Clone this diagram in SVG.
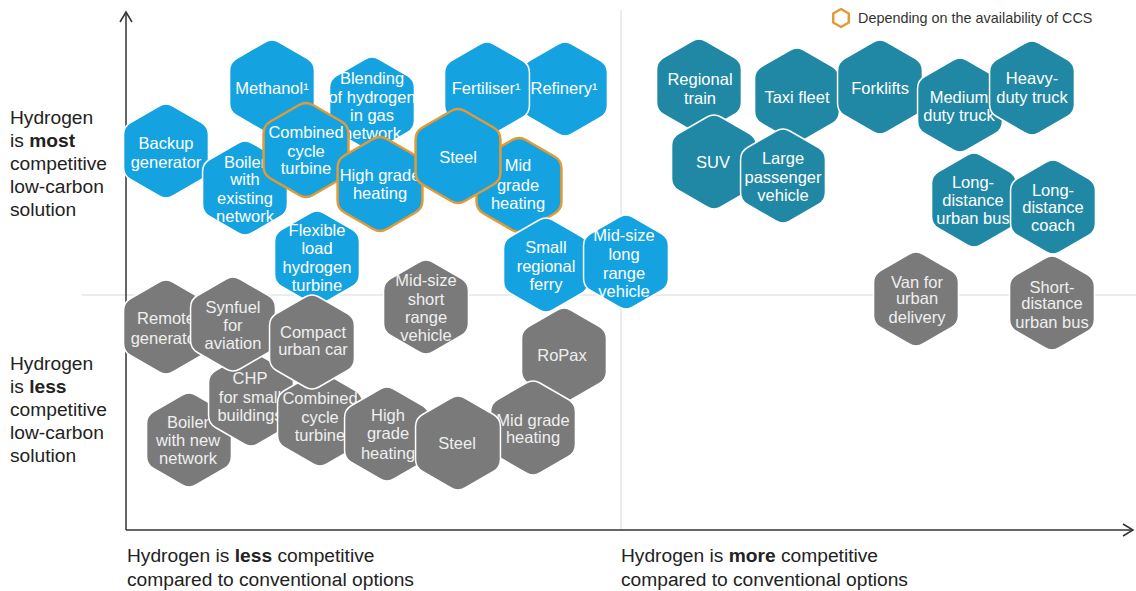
<svg xmlns="http://www.w3.org/2000/svg" xmlns:xlink="http://www.w3.org/1999/xlink" width="1136" height="591" viewBox="0 0 1136 591">
<style>
.b{fill:#14a3e0;stroke:#ffffff;stroke-width:1.5}
.bo{fill:#14a3e0;stroke:#e39a34;stroke-width:2.5}
.t{fill:#2088a4;stroke:#ffffff;stroke-width:1.5}
.g{fill:#7a7a7a;stroke:#ffffff;stroke-width:1.5}
.ht{font-family:"Liberation Sans",Arial,sans-serif;font-size:16.5px;fill:#ffffff;text-anchor:middle}
.gt{font-family:"Liberation Sans",Arial,sans-serif;font-size:16.5px;fill:#efefef;text-anchor:middle}
.ax{font-family:"Liberation Sans",Arial,sans-serif;font-size:19.2px;fill:#222222}
.lg{font-family:"Liberation Sans",Arial,sans-serif;font-size:14.4px;fill:#333333}
.grid{stroke:#d9d9d9;stroke-width:1;fill:none}
.axis{stroke:#333333;stroke-width:1.5;fill:none}
</style>
<defs>
<path id="hex" d="M-6.93,-45 Q0,-49 6.93,-45 L35.51,-28.5 Q42.44,-24.5 42.44,-16.5 L42.44,16.5 Q42.44,24.5 35.51,28.5 L6.93,45 Q0,49 -6.93,45 L-35.51,28.5 Q-42.44,24.5 -42.44,16.5 L-42.44,-16.5 Q-42.44,-24.5 -35.51,-28.5 Z"/>
</defs>
<rect width="1136" height="591" fill="#ffffff"/>
<g id="connectors">
<line class="grid" x1="621" y1="10" x2="621" y2="530"/>
<line class="grid" x1="82" y1="295" x2="1136" y2="295"/>
<line class="axis" x1="126" y1="530" x2="126" y2="12"/>
<polyline class="axis" points="120,22 126,12 132,22"/>
<line class="axis" x1="126" y1="530" x2="1133" y2="530"/>
<polyline class="axis" points="1123,524 1133,530 1123,536"/>
</g>
<g id="legend">
<path d="M841,9 L848.8,13.5 L848.8,22.5 L841,27 L833.2,22.5 L833.2,13.5 Z" fill="#ffffff" stroke="#e39a34" stroke-width="2.5" stroke-linejoin="round"/>
<text class="lg" x="858" y="23">Depending on the availability of CCS</text>
</g>
<g id="axis-labels">
<text class="ax" x="10" y="124">Hydrogen</text>
<text class="ax" x="10" y="147">is <tspan font-weight="bold">most</tspan></text>
<text class="ax" x="10" y="170">competitive</text>
<text class="ax" x="10" y="193">low-carbon</text>
<text class="ax" x="10" y="216">solution</text>
<text class="ax" x="10" y="370">Hydrogen</text>
<text class="ax" x="10" y="393">is <tspan font-weight="bold">less</tspan></text>
<text class="ax" x="10" y="416">competitive</text>
<text class="ax" x="10" y="439">low-carbon</text>
<text class="ax" x="10" y="462">solution</text>
<text class="ax" x="127" y="562">Hydrogen is <tspan font-weight="bold">less</tspan> competitive</text>
<text class="ax" x="127" y="586">compared to conventional options</text>
<text class="ax" x="621" y="562">Hydrogen is <tspan font-weight="bold">more</tspan> competitive</text>
<text class="ax" x="621" y="586">compared to conventional options</text>
</g>
<!-- blue -->
<g id="methanol"><use href="#hex" class="b" x="272" y="87"/><text class="ht" x="272" y="94">Methanol¹</text></g>
<g id="blending"><use href="#hex" class="b" x="372" y="104"/><text class="ht" x="372" y="84">Blending</text><text class="ht" x="372" y="103">of hydrogen</text><text class="ht" x="372" y="121">in gas</text><text class="ht" x="372" y="139">network</text></g>
<g id="backup"><use href="#hex" class="b" x="166" y="151"/><text class="ht" x="166" y="149">Backup</text><text class="ht" x="166" y="168">generator</text></g>
<g id="boiler-existing"><use href="#hex" class="b" x="245" y="188"/><text class="ht" x="245" y="168">Boiler</text><text class="ht" x="245" y="185">with</text><text class="ht" x="245" y="204">existing</text><text class="ht" x="245" y="222">network</text></g>
<g id="refinery"><use href="#hex" class="b" x="565" y="89"/><text class="ht" x="564" y="94">Refinery¹</text></g>
<g id="fertiliser"><use href="#hex" class="b" x="487" y="89"/><text class="ht" x="486" y="94">Fertiliser¹</text></g>
<g id="combined-blue"><use href="#hex" class="bo" x="306" y="150"/><text class="ht" x="306" y="138">Combined</text><text class="ht" x="306" y="157">cycle</text><text class="ht" x="306" y="174">turbine</text></g>
<g id="high-grade-blue"><use href="#hex" class="bo" x="380" y="184"/><text class="ht" x="380" y="181">High grade</text><text class="ht" x="380" y="199">heating</text></g>
<g id="mid-grade-blue"><use href="#hex" class="bo" x="519" y="185"/><text class="ht" x="518" y="171">Mid</text><text class="ht" x="518" y="191">grade</text><text class="ht" x="518" y="209">heating</text></g>
<g id="steel-blue"><use href="#hex" class="bo" x="458" y="156"/><text class="ht" x="458" y="163">Steel</text></g>
<g id="flexible"><use href="#hex" class="b" x="317" y="258"/><text class="ht" x="317" y="236">Flexible</text><text class="ht" x="317" y="254">load</text><text class="ht" x="317" y="273">hydrogen</text><text class="ht" x="317" y="291">turbine</text></g>
<g id="ferry"><use href="#hex" class="b" x="546" y="265"/><text class="ht" x="546" y="253">Small</text><text class="ht" x="546" y="272">regional</text><text class="ht" x="546" y="290">ferry</text></g>
<g id="midsize-long"><use href="#hex" class="b" x="626" y="262"/><text class="ht" x="624" y="241">Mid-size</text><text class="ht" x="624" y="260">long</text><text class="ht" x="624" y="279">range</text><text class="ht" x="624" y="297">vehicle</text></g>
<!-- gray -->
<g id="remote"><use href="#hex" class="g" x="166" y="327"/><text class="gt" x="166" y="324">Remote</text><text class="gt" x="166" y="344">generator</text></g>
<g id="boiler-new"><use href="#hex" class="g" x="189" y="440"/><text class="gt" x="188" y="428">Boiler</text><text class="gt" x="188" y="446">with new</text><text class="gt" x="188" y="464">network</text></g>
<g id="chp"><use href="#hex" class="g" x="251" y="399"/><text class="gt" x="250" y="384">CHP</text><text class="gt" x="250" y="403">for small</text><text class="gt" x="250" y="421">buildings</text></g>
<g id="synfuel"><use href="#hex" class="g" x="233" y="324"/><text class="gt" x="233" y="313">Synfuel</text><text class="gt" x="233" y="331">for</text><text class="gt" x="233" y="349">aviation</text></g>
<g id="combined-gray"><use href="#hex" class="g" x="320" y="419"/><text class="gt" x="320" y="404">Combined</text><text class="gt" x="320" y="423">cycle</text><text class="gt" x="320" y="441">turbine</text></g>
<g id="compact"><use href="#hex" class="g" x="312" y="342"/><text class="gt" x="313" y="338">Compact</text><text class="gt" x="313" y="355">urban car</text></g>
<g id="high-grade-gray"><use href="#hex" class="g" x="387" y="434"/><text class="gt" x="388" y="421">High</text><text class="gt" x="388" y="439">grade</text><text class="gt" x="388" y="459">heating</text></g>
<g id="ropax"><use href="#hex" class="g" x="564" y="355"/><text class="gt" x="562" y="361">RoPax</text></g>
<g id="mid-grade-gray"><use href="#hex" class="g" x="533" y="428"/><text class="gt" x="533" y="426">Mid grade</text><text class="gt" x="533" y="443">heating</text></g>
<g id="steel-gray"><use href="#hex" class="g" x="458" y="443"/><text class="gt" x="457" y="449">Steel</text></g>
<g id="midsize-short"><use href="#hex" class="g" x="426" y="307"/><text class="gt" x="426" y="286">Mid-size</text><text class="gt" x="426" y="305">short</text><text class="gt" x="426" y="323">range</text><text class="gt" x="426" y="341">vehicle</text></g>
<g id="van"><use href="#hex" class="g" x="916" y="299"/><text class="gt" x="917" y="288">Van for</text><text class="gt" x="917" y="304">urban</text><text class="gt" x="917" y="323">delivery</text></g>
<g id="short-distance"><use href="#hex" class="g" x="1052" y="303"/><text class="gt" x="1052" y="293">Short-</text><text class="gt" x="1052" y="309">distance</text><text class="gt" x="1052" y="328">urban bus</text></g>
<!-- teal -->
<g id="regional-train"><use href="#hex" class="t" x="699" y="86"/><text class="ht" x="700" y="85">Regional</text><text class="ht" x="700" y="104">train</text></g>
<g id="taxi"><use href="#hex" class="t" x="797" y="95"/><text class="ht" x="797" y="103">Taxi fleet</text></g>
<g id="suv"><use href="#hex" class="t" x="714" y="162"/><text class="ht" x="713" y="168">SUV</text></g>
<g id="large-passenger"><use href="#hex" class="t" x="783" y="176"/><text class="ht" x="783" y="164">Large</text><text class="ht" x="783" y="183">passenger</text><text class="ht" x="783" y="201">vehicle</text></g>
<g id="forklifts"><use href="#hex" class="t" x="880" y="87"/><text class="ht" x="880" y="94">Forklifts</text></g>
<g id="medium-truck"><use href="#hex" class="t" x="960" y="105"/><text class="ht" x="959" y="103">Medium</text><text class="ht" x="959" y="121">duty truck</text></g>
<g id="heavy-truck"><use href="#hex" class="t" x="1032" y="88"/><text class="ht" x="1032" y="84">Heavy-</text><text class="ht" x="1032" y="103">duty truck</text></g>
<g id="ld-urban-bus"><use href="#hex" class="t" x="974" y="200"/><text class="ht" x="973" y="188">Long-</text><text class="ht" x="973" y="206">distance</text><text class="ht" x="973" y="224">urban bus</text></g>
<g id="ld-coach"><use href="#hex" class="t" x="1053" y="207"/><text class="ht" x="1053" y="196">Long-</text><text class="ht" x="1053" y="213">distance</text><text class="ht" x="1053" y="231">coach</text></g>
</svg>
